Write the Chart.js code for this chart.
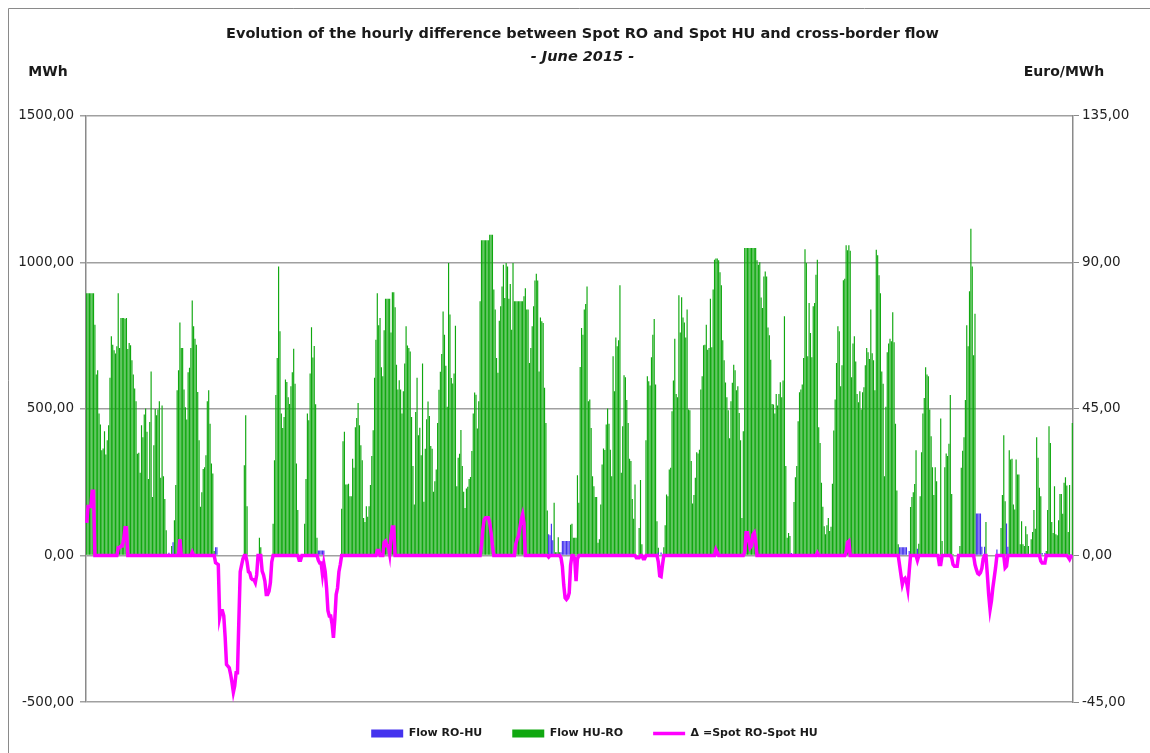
<!DOCTYPE html>
<html>
<head>
<meta charset="utf-8">
<title>RO-HU spot difference and cross-border flow, June 2015</title>
<script src="https://cdn.jsdelivr.net/npm/chart.js@4.4.1/dist/chart.umd.min.js"></script>
<style>
  html, body { margin: 0; padding: 0; background: #fff; overflow: hidden; }
  canvas { display: block; }
</style>
</head>
<body>
<canvas id="flowChart" width="1150" height="753"></canvas>
<script>
// hourly flow HU -> RO (MWh), one line per day of June 2015
const flowHuRo = [
  895,895,895,895,895,895,787,617,632,484,447,359,365,424,344,393,444,606,748,719,700,689,714,895,
  708,810,810,810,808,810,704,725,717,666,617,570,526,347,350,282,444,403,481,501,422,261,455,628,
  199,376,500,478,498,526,265,512,270,193,86,0,0,0,32,0,120,240,564,632,795,708,708,566,
  506,464,625,640,708,870,782,739,719,558,393,166,216,295,301,342,526,564,449,314,280,15,0,0,
  0,0,0,0,0,0,0,0,0,0,0,0,0,0,0,0,0,0,0,308,478,168,0,0,
  0,0,0,0,0,0,60,28,0,0,0,0,0,0,0,0,108,325,547,674,986,765,484,435,
  472,600,592,540,517,577,625,705,586,314,155,0,0,0,0,108,261,484,461,621,779,675,715,516,
  60,0,0,0,0,0,0,0,0,0,0,0,0,0,0,0,0,0,159,390,422,242,242,245,
  202,202,330,299,437,469,520,444,376,325,128,114,168,132,168,240,339,427,606,736,895,785,810,642,
  611,768,876,876,876,876,761,898,898,847,651,566,598,566,484,560,655,782,716,708,696,472,305,174,
  489,606,410,436,342,655,183,364,465,525,476,373,364,217,253,293,452,565,627,687,832,753,647,507,
  998,822,605,587,621,784,236,333,347,428,305,217,162,228,234,261,268,356,484,556,548,433,526,867,
  1075,1075,1075,1075,1075,1075,1094,1094,1094,907,839,674,623,801,850,918,992,878,998,986,876,926,770,998,
  867,867,867,867,867,867,867,884,912,839,839,657,708,782,850,938,961,938,628,812,799,793,572,452,
  153,0,0,0,0,180,11,11,62,11,0,0,0,0,0,0,0,105,108,60,60,60,274,180,
  643,776,753,839,858,918,526,532,435,270,236,199,199,43,55,174,310,365,360,447,501,449,361,270,
  680,560,744,714,734,922,282,441,615,608,530,452,330,322,193,125,242,0,0,94,257,38,0,0,
  393,611,594,580,676,753,807,583,117,26,0,0,0,28,103,208,202,293,299,492,597,739,551,540,
  888,761,881,812,795,744,839,498,495,322,177,206,265,352,348,361,566,611,717,719,787,702,708,876,
  710,907,1009,1013,1013,1007,966,922,734,666,590,540,495,400,526,589,651,632,564,577,486,393,128,424,
  1049,1049,1049,1049,1049,1049,1049,1049,1049,1007,992,1000,880,844,952,969,952,778,751,668,517,515,484,551,
  512,551,591,540,597,816,305,60,77,66,0,0,182,267,305,458,557,566,583,674,1045,998,680,861,
  759,676,850,861,958,1009,437,384,248,166,100,72,103,128,83,98,245,426,532,657,782,765,577,649,
  939,944,1058,1041,1058,1040,608,723,748,662,551,523,560,498,557,574,649,708,693,670,839,690,666,564,
  1043,1024,956,895,628,586,270,507,693,723,739,731,830,727,449,222,38,0,0,0,0,0,0,0,
  0,165,199,216,244,359,0,40,202,352,484,537,642,617,611,498,407,301,206,301,253,5,0,467,
  49,0,301,348,339,381,547,210,5,0,0,0,0,32,299,357,403,530,785,714,901,1115,986,683,
  825,0,0,0,0,0,0,0,114,0,0,0,0,0,0,0,0,5,0,94,206,410,185,0,
  0,359,327,330,174,157,327,276,276,38,117,38,32,100,72,32,0,55,80,155,91,403,333,231,
  202,0,0,0,15,155,441,384,114,77,236,72,69,120,210,210,142,248,267,239,80,240,0,452
];

// flow RO -> HU (MWh): hour of the month (0 = 1 June 00-01) and value
const roHuHours  = [60, 63, 94, 95, 169, 170, 171, 172, 173, 337, 338, 339, 340, 346, 347, 348, 349, 350, 351, 352,
                    417, 419, 514, 593, 594, 595, 596, 597, 598, 600, 606, 649, 650, 651, 652, 653, 655, 664, 671, 672, 697, 699, 718];
const roHuValues = [9, 45, 28, 28, 17, 17, 17, 17, 17, 72, 69, 108, 52, 11, 49, 49, 49, 49, 49, 49,
                    10, 10, 8, 28, 28, 28, 28, 28, 28, 15, 23, 143, 143, 143, 143, 30, 30, 20, 109, 30, 8, 8, 5];

// spot RO - spot HU (Euro/MWh), zero outside these runs: [first hour, values]
const spreadRuns = [
  [0,   [10, 15, 15, 15, 19.7, 19.7]],
  [23,  [2.4, 2.4, 2.9, 2.9, 5, 8.5, 8.5]],
  [68,  [5]],
  [77,  [1]],
  [94,  [-2.2, -2.5, -2.8, -19, -17, -17, -18.5, -25, -33.5, -34, -34.5, -36.5, -39, -42, -40, -36, -36, -20, -5, -3, -1]],
  [117, [-2, -5, -5.3, -7, -7.4, -7.5, -8.4, -6]],
  [128, [-4.8, -6, -7.9, -12, -12, -11, -8.4, -2]],
  [155, [-1.5, -1.5]],
  [169, [-1.5, -2.3, -2.3, -5.8, -2.5, -5, -10, -17, -18.6, -18.6, -21, -25.3, -19.6, -12, -10, -5, -2.8]],
  [212, [1.5, 1.5]],
  [217, [4, 4.4, 3, 3, 0.5, 6, 8.7, 8.7]],
  [288, [3, 8, 11, 11.6, 11.6, 11.6, 10, 7, 3]],
  [313, [3.5, 5, 6, 8.5, 11, 12.6, 10]],
  [337, [-0.5]],
  [346, [-0.7, -3.3, -9, -13, -13.5, -13, -11.5, -3]],
  [356, [-1, -7.9, -1]],
  [401, [-0.7, -0.7, -0.7]],
  [406, [-1, -1]],
  [417, [-2, -6.3, -6.5, -3]],
  [459, [1.8, 1]],
  [480, [1, 7, 7, 4.5, 2.4, 3, 6.4, 7, 4.5]],
  [533, [0.8]],
  [554, [1, 4, 4.4]],
  [593, [-3, -6, -8.9, -7.4, -7, -8, -10.4, -5]],
  [606, [-1.5]],
  [622, [-2.8, -2.8]],
  [631, [-0.7, -2.8, -3.3, -3.3, -3.3]],
  [648, [-2.8, -4.3, -5.5, -5.8, -5.3, -4, -1]],
  [657, [-5.8, -12, -16.6, -14, -10, -6.9, -3.8]],
  [670, [-3.8, -3.3]],
  [696, [-1.7, -2.3, -2.3, -2.3]],
  [716, [-0.5, -1.2, -0.3]]
];

const mwhTicks = [-500, 0, 500, 1000, 1500];
const euroTicks = [-45, 0, 45, 90, 135];

// one category per hour
const hourLabels = [];
for (let d = 1; d <= 30; d++) {
  for (let h = 1; h <= 24; h++) hourLabels.push(d + '.06 ' + h);
}

const flowRoHu = hourLabels.map(() => 0);
roHuHours.forEach((h, i) => { flowRoHu[h] = roHuValues[i]; });

const spread = hourLabels.map(() => 0);
spreadRuns.forEach(([start, vals]) => {
  vals.forEach((v, i) => { spread[start + i] = v; });
});

const fmt = v => v.toFixed(2).replace('.', ',');

// white page, the thin frame and the two unit labels
const decor = {
  id: 'decor',
  beforeDraw(chart) {
    const ctx = chart.ctx;
    ctx.save();
    ctx.fillStyle = '#fff';
    ctx.fillRect(0, 0, chart.width, chart.height);
    ctx.strokeStyle = '#8a8a8a';
    ctx.lineWidth = 1;
    ctx.beginPath();
    ctx.moveTo(8.5, chart.height);
    ctx.lineTo(8.5, 8.5);
    ctx.lineTo(chart.width, 8.5);
    ctx.stroke();
    ctx.restore();
  },
  afterDraw(chart) {
    const ctx = chart.ctx;
    ctx.save();
    ctx.font = 'bold 14px "DejaVu Sans"';
    ctx.fillStyle = '#1a1a1a';
    ctx.textAlign = 'center';
    ctx.textBaseline = 'middle';
    ctx.fillText('MWh', 48, 72);
    ctx.fillText('Euro/MWh', 1064, 72);
    ctx.restore();
  }
};

// legend sits a little right of centre and closer to the plot in the original
const legendShift = {
  id: 'legendShift',
  afterLayout(chart) {
    const lg = chart.legend;
    if (!lg) return;
    lg.left += 12;
    lg.right += 12;
    lg.top -= 4;
    lg.bottom = chart.height;
  }
};

new Chart(document.getElementById('flowChart'), {
  data: {
    labels: hourLabels,
    datasets: [
      {
        type: 'bar',
        label: 'Flow RO-HU',
        data: flowRoHu,
        backgroundColor: '#4433ee',
        borderWidth: 0,
        grouped: false,
        barPercentage: 0.85,
        categoryPercentage: 1,
        pointStyle: 'rect',
        yAxisID: 'y',
        order: 1
      },
      {
        type: 'bar',
        label: 'Flow HU-RO',
        data: flowHuRo,
        backgroundColor: '#10a810',
        borderWidth: 0,
        grouped: false,
        barPercentage: 0.85,
        categoryPercentage: 1,
        pointStyle: 'rect',
        yAxisID: 'y',
        order: 2
      },
      {
        type: 'line',
        label: 'Δ =Spot RO-Spot HU',
        data: spread,
        borderColor: '#ff00ff',
        backgroundColor: '#ff00ff',
        borderWidth: 3.5,
        pointRadius: 0,
        pointStyle: 'line',
        tension: 0,
        yAxisID: 'y2',
        order: 0
      }
    ]
  },
  options: {
    responsive: false,
    animation: false,
    layout: { padding: { left: 15, right: 0, top: 0, bottom: 0 } },
    plugins: {
      tooltip: { enabled: false },
      title: {
        display: true,
        text: 'Evolution of the hourly difference between Spot RO and Spot HU and cross-border flow',
        color: '#1a1a1a',
        font: { family: 'DejaVu Sans', size: 14.5, weight: 'bold' },
        padding: { top: 26, bottom: 4 }
      },
      subtitle: {
        display: true,
        text: '- June 2015 -',
        color: '#1a1a1a',
        font: { family: 'DejaVu Sans', size: 14.5, weight: 'bold', style: 'italic' },
        padding: { top: 1, bottom: 50 }
      },
      legend: {
        position: 'bottom',
        align: 'center',
        labels: {
          usePointStyle: true,
          pointStyleWidth: 32,
          boxHeight: 8,
          padding: 30,
          color: '#1a1a1a',
          font: { family: 'DejaVu Sans', size: 11, weight: 'bold' },
          sort: (a, b) => a.datasetIndex - b.datasetIndex
        }
      }
    },
    scales: {
      x: {
        type: 'category',
        display: false,
        offset: true,
        grid: { display: false }
      },
      y: {
        position: 'left',
        min: -500,
        max: 1500,
        afterFit(scale) { scale.width = 71; },
        afterBuildTicks(scale) { scale.ticks = mwhTicks.map(v => ({ value: v })); },
        ticks: {
          padding: 6,
          color: '#222',
          font: { family: 'DejaVu Sans', size: 13.5 },
          callback: v => fmt(v)
        },
        grid: { color: '#a0a0a0', lineWidth: 1.5, tickLength: 6, drawTicks: true },
        border: { color: '#8a8a8a', width: 1.5 }
      },
      y2: {
        position: 'right',
        min: -45,
        max: 135,
        afterFit(scale) { scale.width = 77; },
        afterBuildTicks(scale) { scale.ticks = euroTicks.map(v => ({ value: v })); },
        ticks: {
          padding: 3,
          color: '#222',
          font: { family: 'DejaVu Sans', size: 13.5 },
          callback: v => fmt(v)
        },
        grid: { drawOnChartArea: false, color: '#8a8a8a', tickLength: 6 },
        border: { color: '#8a8a8a', width: 1.5 }
      }
    }
  },
  plugins: [decor, legendShift]
});
</script>
</body>
</html>
